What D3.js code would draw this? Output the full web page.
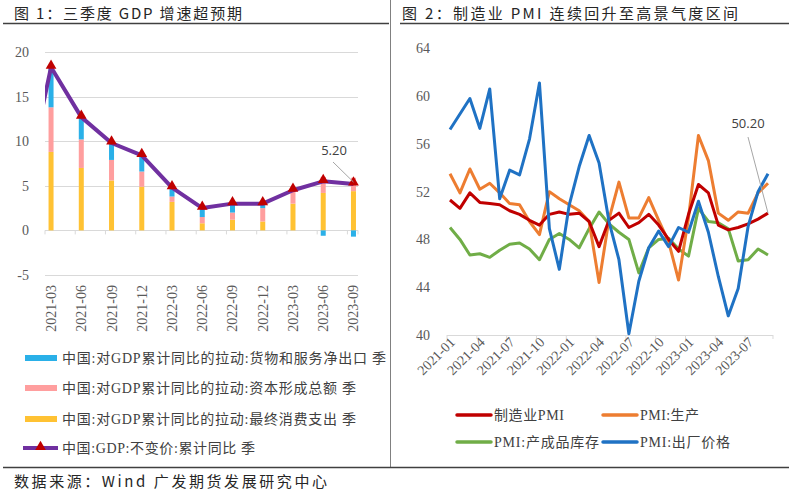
<!DOCTYPE html>
<html><head><meta charset="utf-8">
<script src="https://cdn.jsdelivr.net/npm/d3@7"></script>
<style>
html,body{margin:0;padding:0;background:#fff;}
svg{display:block;}
</style></head>
<body><svg id="c" width="800" height="498"></svg>
<script>
// ---------- Data: Figure 1 ----------
const quarters = ["2021-03","2021-06","2021-09","2021-12","2022-03","2022-06","2022-09","2022-12","2023-03","2023-06","2023-09"];
const consumption = [8.8, 7.0, 5.6, 4.9, 3.2, 0.8, 1.2, 1.0, 3.0, 4.2, 4.4];
const capital     = [5.0, 3.2, 2.3, 1.7, 0.6, 0.7, 0.8, 1.5, 1.4, 1.8, 1.5];
const netExports  = [4.5, 2.5, 1.9, 1.8, 1.0, 1.0, 1.0, 0.5, 0.1, -0.6, -0.7];
const gdp         = [18.3, 12.7, 9.8, 8.4, 4.8, 2.5, 3.0, 3.0, 4.5, 5.5, 5.2];
const gdpPrev     = 2.3; // 2020-12, outside the axis (clipped)
const leftYTicks  = [-5, 0, 5, 10, 15, 20];

// ---------- Data: Figure 2 ----------
const months = ["2021-01","2021-02","2021-03","2021-04","2021-05","2021-06","2021-07","2021-08","2021-09","2021-10","2021-11","2021-12",
  "2022-01","2022-02","2022-03","2022-04","2022-05","2022-06","2022-07","2022-08","2022-09","2022-10","2022-11","2022-12",
  "2023-01","2023-02","2023-03","2023-04","2023-05","2023-06","2023-07","2023-08","2023-09"];
const pmi        = [51.3,50.6,51.9,51.1,51.0,50.9,50.4,50.1,49.6,49.2,50.1,50.3, 50.1,50.2,49.5,47.4,49.6,50.2,49.0,49.4,50.1,49.2,48.0,47.0, 50.1,52.6,51.9,49.2,48.8,49.0,49.3,49.7,50.2];
const production = [53.5,51.9,53.9,52.2,52.7,51.9,51.0,50.9,49.5,48.4,52.0,51.4, 50.9,50.4,49.5,44.4,49.7,52.8,49.8,49.8,51.5,49.6,47.8,44.6, 49.8,56.7,54.6,50.2,49.6,50.3,50.2,51.9,52.7];
const inventory  = [49.0,48.0,46.7,46.8,46.5,47.1,47.6,47.7,47.2,46.3,48.0,48.5, 48.0,47.3,48.9,50.3,49.3,48.6,48.0,45.2,47.3,48.0,48.1,47.2, 46.6,50.6,49.5,49.4,48.9,46.2,46.3,47.2,46.7];
const outPrice   = [57.2,58.5,59.8,57.3,60.6,51.4,53.8,53.4,56.4,61.1,48.9,45.5, 50.9,54.1,56.7,54.4,49.5,46.3,40.1,44.5,47.3,48.7,47.4,49.0, 48.6,51.2,48.6,44.9,41.6,43.9,49.1,52.0,53.5];
const rightYTicks = [40, 44, 48, 52, 56, 60, 64];
const rightXTickLabels = ["2021-01","2021-04","2021-07","2021-10","2022-01","2022-04","2022-07","2022-10","2023-01","2023-04","2023-07"];

const serif = "'Liberation Serif','Times New Roman','Noto Sans CJK SC',serif";
const cjk = "'Noto Sans CJK SC','DejaVu Sans',sans-serif";
const labelColor = "#595959";

const svg = d3.select("#c");

// ---------- Frame ----------
svg.append("line").attr("x1",3).attr("x2",389).attr("y1",23.5).attr("y2",23.5).attr("stroke","#404040").attr("stroke-width",1.5);
svg.append("line").attr("x1",400).attr("x2",789).attr("y1",23.5).attr("y2",23.5).attr("stroke","#404040").attr("stroke-width",1.5);
svg.append("line").attr("x1",390.5).attr("x2",390.5).attr("y1",0).attr("y2",467).attr("stroke","#808080").attr("stroke-width",1);
svg.append("line").attr("x1",3).attr("x2",789).attr("y1",467.5).attr("y2",467.5).attr("stroke","#404040").attr("stroke-width",1.5);

svg.append("text").attr("x",14).attr("y",19).attr("font-family",cjk).attr("font-size",15).attr("fill","#262626")
  .attr("textLength",228).attr("lengthAdjust","spacing").text("图 1：三季度 GDP 增速超预期");
svg.append("text").attr("x",402).attr("y",19).attr("font-family",cjk).attr("font-size",15).attr("fill","#262626")
  .attr("textLength",336).attr("lengthAdjust","spacing").text("图 2：制造业 PMI 连续回升至高景气度区间");
svg.append("text").attr("x",14).attr("y",487).attr("font-family",cjk).attr("font-size",15).attr("fill","#262626")
  .attr("textLength",313).attr("lengthAdjust","spacing").text("数据来源：Wind 广发期货发展研究中心");

// ---------- Figure 1 ----------
const xL = d3.scaleLinear().domain([-0.2, 10.15]).range([45, 358]);
const yL = d3.scaleLinear().domain([-5, 20]).range([275, 52]);

const gL = svg.append("g");
gL.selectAll("line.grid").data(leftYTicks).join("line")
  .attr("x1",45).attr("x2",358).attr("y1",d=>Math.round(yL(d))+0.5).attr("y2",d=>Math.round(yL(d))+0.5)
  .attr("stroke","#D9D9D9").attr("stroke-width",1);
gL.selectAll("text.yl").data(leftYTicks).join("text")
  .attr("x",29).attr("y",d=>yL(d)+5).attr("text-anchor","end")
  .attr("font-family",serif).attr("font-size",14).attr("fill",labelColor).text(d=>d);
// x axis ticks
gL.selectAll("line.xt").data(quarters).join("line")
  .attr("x1",(d,i)=>xL(i-0.2)).attr("x2",(d,i)=>xL(i-0.2))
  .attr("y1",yL(0)).attr("y2",yL(0)+4).attr("stroke","#D9D9D9");
gL.append("line").attr("x1",358).attr("x2",358).attr("y1",yL(0)).attr("y2",yL(0)+4).attr("stroke","#D9D9D9");
gL.selectAll("text.xl").data(quarters).join("text")
  .attr("transform",(d,i)=>`translate(${xL(i)+5},285) rotate(-90)`)
  .attr("text-anchor","end").attr("font-family",serif).attr("font-size",14).attr("fill",labelColor).text(d=>d);

// stacked bars
const rows = quarters.map((q,i)=>({q, cons:consumption[i], cap:capital[i], net:netExports[i]}));
const keys = ["cons","cap","net"];
const colors = {cons:"#FFC233", cap:"#FF9E9E", net:"#2AB0E8"};
const stacked = d3.stack().keys(keys).offset(d3.stackOffsetDiverging)(rows);
const bw = 5;
stacked.forEach(layer=>{
  gL.selectAll(null).data(layer).join("rect")
    .attr("x",(d,i)=>xL(i)-bw/2).attr("width",bw)
    .attr("y",d=>yL(Math.max(d[0],d[1]))).attr("height",d=>Math.abs(yL(d[0])-yL(d[1])))
    .attr("fill",colors[layer.key]);
});

// GDP line
svg.append("clipPath").attr("id","clipL").append("rect").attr("x",45).attr("y",30).attr("width",313).attr("height",260);
const linePts = [[xL(-1), yL(gdpPrev)]].concat(gdp.map((v,i)=>[xL(i), yL(v)]));
gL.append("path").attr("d",d3.line()(linePts)).attr("fill","none").attr("stroke","#7030A0")
  .attr("stroke-width",4).attr("stroke-linejoin","round").attr("clip-path","url(#clipL)");
const tri = d3.symbol().type(d3.symbolTriangle).size(50);
gL.selectAll("path.tri").data(gdp).join("path")
  .attr("transform",(d,i)=>`translate(${xL(i)},${yL(d)-1.5})`).attr("d",tri).attr("fill","#C00000");
// label 5.20
const lastI = gdp.length-1;
gL.append("line").attr("x1",333).attr("y1",162).attr("x2",xL(lastI)).attr("y2",yL(gdp[lastI])-2)
  .attr("stroke","#A6A6A6").attr("stroke-width",1);
gL.append("text").attr("x",334).attr("y",155).attr("text-anchor","middle").attr("font-family","'Open Sans','DejaVu Sans',sans-serif")
  .attr("font-size",13).attr("fill","#404040").text(gdp[lastI].toFixed(2));

// legend left
const legL = [
  {t:"中国:对GDP累计同比的拉动:货物和服务净出口 季", c:colors.net, type:"bar", w:324},
  {t:"中国:对GDP累计同比的拉动:资本形成总额 季", c:colors.cap, type:"bar", w:294},
  {t:"中国:对GDP累计同比的拉动:最终消费支出 季", c:colors.cons, type:"bar", w:294},
  {t:"中国:GDP:不变价:累计同比 季", c:"#7030A0", type:"line", w:193}
];
const legY = [358, 388, 419, 448];
legL.forEach((d,i)=>{
  const g = svg.append("g").attr("transform",`translate(0,${legY[i]})`);
  if(d.type==="bar"){
    g.append("rect").attr("x",25).attr("y",-3).attr("width",32).attr("height",6).attr("fill",d.c);
  } else {
    g.append("line").attr("x1",23).attr("x2",58).attr("y1",0).attr("y2",0).attr("stroke",d.c).attr("stroke-width",4);
    g.append("path").attr("transform","translate(40.5,-1)").attr("d",tri).attr("fill","#C00000");
  }
  g.append("text").attr("x",62).attr("y",5).attr("font-family",serif).attr("font-size",14).attr("fill","#404040")
    .attr("textLength",d.w).attr("lengthAdjust","spacing").text(d.t);
});

// ---------- Figure 2 ----------
const xR = d3.scaleLinear().domain([0, 32]).range([450, 768]);
const yR = d3.scaleLinear().domain([40, 64]).range([335, 48.3]);
const gR = svg.append("g");
gR.selectAll("text.yr").data(rightYTicks).join("text")
  .attr("x",430).attr("y",d=>yR(d)+5).attr("text-anchor","end")
  .attr("font-family",serif).attr("font-size",14).attr("fill",labelColor).text(d=>d);
gR.append("line").attr("x1",xR(-0.3)).attr("x2",xR(32.5)).attr("y1",335.5).attr("y2",335.5).attr("stroke","#D9D9D9");
const tickIdx = rightXTickLabels.map(l=>months.indexOf(l));
gR.selectAll("line.xt").data(tickIdx.concat([32.8])).join("line")
  .attr("x1",d=>xR(d-0.3)).attr("x2",d=>xR(d-0.3)).attr("y1",335).attr("y2",339).attr("stroke","#D9D9D9");
gR.selectAll("text.xl").data(rightXTickLabels).join("text")
  .attr("transform",(d,i)=>`translate(${xR(tickIdx[i])+6},343) rotate(-45)`)
  .attr("text-anchor","end").attr("font-family",serif).attr("font-size",14).attr("fill",labelColor).text(d=>d);

const series = [
  {name:"制造业PMI", v:pmi, c:"#C00000", w:70},
  {name:"PMI:生产", v:production, c:"#ED7D31", w:59},
  {name:"PMI:产成品库存", v:inventory, c:"#70AD47", w:105},
  {name:"PMI:出厂价格", v:outPrice, c:"#1F72C4", w:90}
];
const drawOrder = [2, 1, 0, 3];
drawOrder.forEach(k=>{
  const s = series[k];
  gR.append("path").attr("d", d3.line().x((d,i)=>xR(i)).y(d=>yR(d))(s.v))
    .attr("fill","none").attr("stroke",s.c).attr("stroke-width",3).attr("stroke-linejoin","round");
});
// label 50.20
const lp = pmi.length-1;
gR.append("line").attr("x1",748).attr("y1",137).attr("x2",xR(lp)).attr("y2",yR(pmi[lp]))
  .attr("stroke","#A6A6A6").attr("stroke-width",1);
gR.append("text").attr("x",748).attr("y",128).attr("text-anchor","middle").attr("font-family","'Open Sans','DejaVu Sans',sans-serif")
  .attr("font-size",13).attr("fill","#404040").text(pmi[lp].toFixed(2));

// legend right
const legR = [
  {s:0, x:457, y:415}, {s:1, x:603, y:415},
  {s:2, x:457, y:442}, {s:3, x:603, y:442}
];
legR.forEach(d=>{
  const s = series[d.s];
  svg.append("line").attr("x1",d.x).attr("x2",d.x+34).attr("y1",d.y).attr("y2",d.y).attr("stroke",s.c).attr("stroke-width",3.5).attr("stroke-linecap","round");
  svg.append("text").attr("x",d.x+37).attr("y",d.y+5).attr("font-family",serif).attr("font-size",14).attr("fill","#404040")
    .attr("textLength",s.w).attr("lengthAdjust","spacing").text(s.name);
});
</script></body></html>
